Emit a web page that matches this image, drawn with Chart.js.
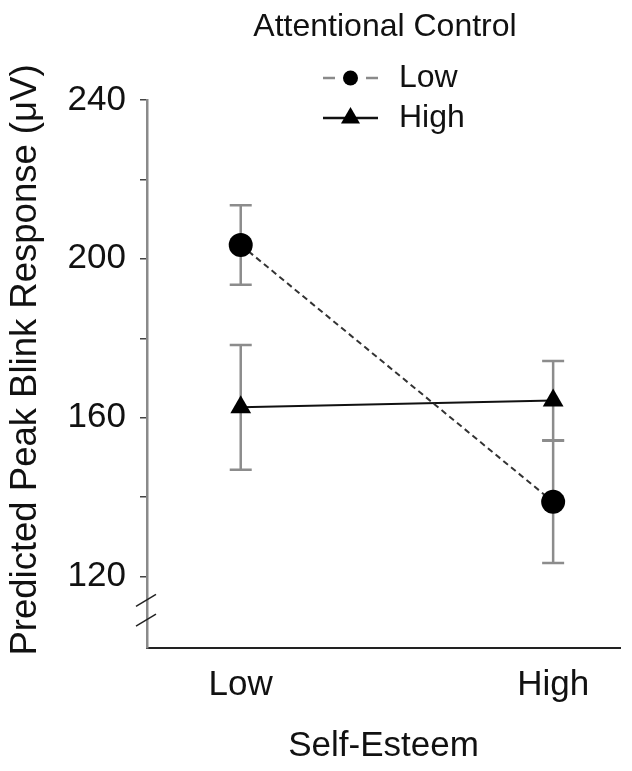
<!DOCTYPE html>
<html>
<head>
<meta charset="utf-8">
<script src="https://cdn.jsdelivr.net/npm/chart.js@4.4.0/dist/chart.umd.min.js"></script>
<style>
  html, body { margin: 0; padding: 0; background: #fff; }
  #wrap { width: 632px; height: 771px; }
</style>
</head>
<body>
<div id="wrap"><canvas id="chart" width="632" height="771"></canvas></div>
<script>
// Self-esteem levels on the x axis
const selfEsteemLevels = ['Low', 'High'];
const selfEsteemX = [1, 2];

// Attentional control groups
const lowControlMeans = [203.5, 138.8];
const lowControlErrors = [10, 15.4];
const highControlMeans = [162.6, 164.3];
const highControlErrors = [15.7, 10];

const yTicksMajor = [120, 160, 200, 240];
const yTicksMinor = [140, 180, 220];

const legendTitle = 'Attentional Control';
const xTitle = 'Self-Esteem';
const yTitle = 'Predicted Peak Blink Response (\u03BCV)';

const FONT = '"Liberation Sans", Arial, sans-serif';

function markerPath(ctx, style, r, x, y) {
    ctx.beginPath();
    if (style === 'triangle') {
        ctx.moveTo(x, y - r);
        ctx.lineTo(x + r * 0.866, y + r * 0.5);
        ctx.lineTo(x - r * 0.866, y + r * 0.5);
        ctx.closePath();
    } else {
        ctx.arc(x, y, r, 0, Math.PI * 2);
    }
    ctx.fill();
}

// error bars under the markers
const errorBars = {
    id: 'errorBars',
    beforeDatasetsDraw(chart) {
        const { ctx, scales: { x, y } } = chart;
        ctx.save();
        ctx.strokeStyle = '#8c8c8c';
        ctx.lineWidth = 2.5;
        chart.data.datasets.forEach(ds => {
            ds.data.forEach((pt, i) => {
                const e = ds.errors[i];
                const px = x.getPixelForValue(pt.x);
                const top = y.getPixelForValue(pt.y + e);
                const bot = y.getPixelForValue(pt.y - e);
                ctx.beginPath();
                ctx.moveTo(px, top); ctx.lineTo(px, bot);
                ctx.moveTo(px - 11, top); ctx.lineTo(px + 11, top);
                ctx.moveTo(px - 11, bot); ctx.lineTo(px + 11, bot);
                ctx.stroke();
            });
        });
        ctx.restore();
    }
};

// the // break marks on the y axis, plus the rotated y title
const axisBreak = {
    id: 'axisBreak',
    afterDraw(chart) {
        const { ctx, scales: { y } } = chart;
        const ax = chart.chartArea.left;
        ctx.save();
        ctx.strokeStyle = '#222';
        ctx.lineWidth = 1.5;
        [114, 109].forEach(v => {
            const py = y.getPixelForValue(v);
            ctx.beginPath();
            ctx.moveTo(ax - 11, py + 6);
            ctx.lineTo(ax + 9, py - 6);
            ctx.stroke();
        });
        // y title, a bit above the centre of the axis like the original
        ctx.translate(26, (chart.chartArea.top + chart.chartArea.bottom) / 2 - 14);
        ctx.rotate(-Math.PI / 2);
        ctx.fillStyle = '#111';
        ctx.font = '36.5px ' + FONT;
        ctx.textAlign = 'center';
        ctx.textBaseline = 'middle';
        ctx.fillText(yTitle, 0, 0);
        ctx.restore();
    }
};

// legend with title, dashed/solid sample lines and markers
const lineLegend = {
    id: 'lineLegend',
    afterDraw(chart) {
        const { ctx } = chart;
        ctx.save();
        ctx.fillStyle = '#111';
        ctx.font = '32px ' + FONT;
        ctx.textAlign = 'center';
        ctx.textBaseline = 'middle';
        ctx.fillText(legendTitle, 385, 27);
        chart.data.datasets.forEach((ds, i) => {
            const y0 = 78 + i * 40;
            const x0 = 323, x1 = 378, xm = (x0 + x1) / 2;
            ctx.strokeStyle = ds.legendLineColor;
            ctx.lineWidth = 2.5;
            ctx.setLineDash(ds.borderDash.length ? [12, 31] : []);
            ctx.beginPath();
            ctx.moveTo(x0, y0); ctx.lineTo(x1, y0);
            ctx.stroke();
            ctx.setLineDash([]);
            ctx.fillStyle = '#000';
            markerPath(ctx, ds.pointStyle, ds.pointStyle === 'triangle' ? 11 : 7.5, xm, y0);
            ctx.fillStyle = '#111';
            ctx.font = '32px ' + FONT;
            ctx.textAlign = 'left';
            ctx.fillText(ds.label, 399, y0);
        });
        ctx.restore();
    }
};

const ctx = document.getElementById('chart');
new Chart(ctx, {
    type: 'line',
    data: {
        datasets: [{
            label: 'Low',
            data: selfEsteemX.map((x, i) => ({ x, y: lowControlMeans[i] })),
            errors: lowControlErrors,
            borderColor: '#333',
            borderWidth: 2,
            borderDash: [6, 4],
            pointStyle: 'circle',
            pointRadius: 12,
            pointBackgroundColor: '#000',
            pointBorderColor: '#000',
            pointBorderWidth: 0,
            legendLineColor: '#8a8a8a'
        }, {
            label: 'High',
            data: selfEsteemX.map((x, i) => ({ x, y: highControlMeans[i] })),
            errors: highControlErrors,
            borderColor: '#111',
            borderWidth: 2,
            borderDash: [],
            pointStyle: 'triangle',
            pointRadius: 12,
            pointBackgroundColor: '#000',
            pointBorderColor: '#000',
            pointBorderWidth: 0,
            legendLineColor: '#111'
        }]
    },
    options: {
        responsive: false,
        animation: false,
        devicePixelRatio: 1,
        layout: { padding: { top: 100, right: 11, left: 0, bottom: 0 } },
        plugins: {
            legend: { display: false },
            tooltip: { enabled: false }
        },
        scales: {
            x: {
                type: 'linear',
                min: 0.7,
                max: 2.214,
                afterBuildTicks: s => { s.ticks = selfEsteemX.map(v => ({ value: v })); },
                afterFit: s => { s.height = 123; },
                ticks: {
                    autoSkip: false,
                    maxRotation: 0,
                    padding: 8,
                    color: '#111',
                    font: { family: FONT, size: 35 },
                    callback: (v, i) => selfEsteemLevels[i]
                },
                grid: { display: false },
                border: { display: true, color: '#222', width: 2 },
                title: {
                    display: true,
                    text: xTitle,
                    color: '#111',
                    font: { family: FONT, size: 35 },
                    padding: { top: 0, bottom: 4 }
                }
            },
            y: {
                min: 102,
                max: 240,
                afterBuildTicks: s => {
                    s.ticks = [...yTicksMinor, ...yTicksMajor].sort((a, b) => a - b).map(v => ({ value: v }));
                },
                afterFit: s => { s.width = 147; },
                ticks: {
                    autoSkip: false,
                    padding: 14,
                    color: '#111',
                    font: { family: FONT, size: 35 },
                    callback: v => yTicksMajor.includes(v) ? String(v) : ''
                },
                grid: {
                    drawOnChartArea: false,
                    drawTicks: true,
                    tickLength: 7,
                    color: '#444',
                    lineWidth: 1.5
                },
                border: { display: true, color: '#8a8a8a', width: 2.5 },
                title: { display: false }
            }
        }
    },
    plugins: [errorBars, axisBreak, lineLegend]
});
</script>
</body>
</html>
